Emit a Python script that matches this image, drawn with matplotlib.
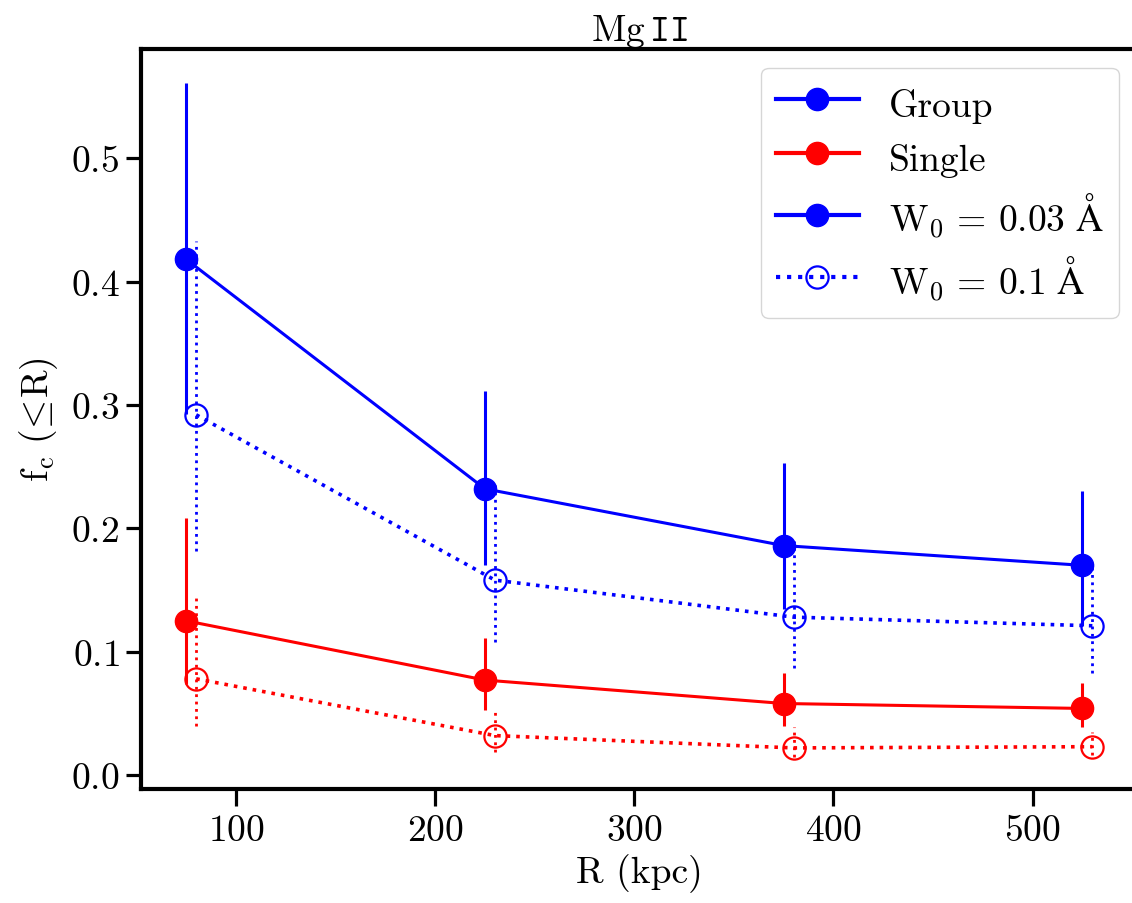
import matplotlib
matplotlib.use("Agg")
import matplotlib.pyplot as plt
from matplotlib.lines import Line2D

plt.rcParams['font.family'] = ['cmr10']
plt.rcParams['mathtext.fontset'] = 'cm'
plt.rcParams['axes.formatter.use_mathtext'] = True
plt.rcParams['axes.unicode_minus'] = False

# ---- data ----
R = [75, 225, 375, 525]
R_shift = [80, 230, 380, 530]

group_003 = [0.418, 0.232, 0.186, 0.170]
group_003_hi = [0.561, 0.311, 0.253, 0.230]
group_003_lo = [0.293, 0.170, 0.135, 0.121]

group_01 = [0.292, 0.158, 0.128, 0.121]
group_01_hi = [0.433, 0.235, 0.190, 0.170]
group_01_lo = [0.182, 0.108, 0.087, 0.083]

single_003 = [0.125, 0.077, 0.058, 0.054]
single_003_hi = [0.208, 0.111, 0.083, 0.075]
single_003_lo = [0.074, 0.053, 0.040, 0.039]

single_01 = [0.078, 0.032, 0.022, 0.023]
single_01_hi = [0.147, 0.054, 0.039, 0.035]
single_01_lo = [0.040, 0.019, 0.015, 0.016]

legend_labels = ['Group', 'Single',
                 r'$\mathrm{W_0\,=\,0.03\ \AA}$', r'$\mathrm{W_0\,=\,0.1\ \AA}$']

FS = 27

fig = plt.figure(figsize=(11.32, 9.04), dpi=100)
ax = fig.add_axes([0.1245, 0.1261, 1.005 - 0.1245, 0.9447 - 0.1261])


def err(y, hi, lo):
    return [[a - b for a, b in zip(y, lo)], [c - a for a, c in zip(y, hi)]]


def series(x, y, hi, lo, color, filled):
    if filled:
        c = ax.errorbar(x, y, yerr=err(y, hi, lo), color=color, ls='-', lw=2.2,
                        marker='o', ms=16, mfc=color, mec=color, elinewidth=2.2,
                        capsize=0)
    else:
        c = ax.errorbar(x, y, yerr=err(y, hi, lo), color=color, ls=':', lw=2.6,
                        marker='o', ms=16, mfc='none', mec=color, mew=1.6,
                        elinewidth=2.0, capsize=0)
        for lc in c.lines[2]:
            lc.set_linestyle(':')
    return c


series(R, group_003, group_003_hi, group_003_lo, 'blue', True)
series(R_shift, group_01, group_01_hi, group_01_lo, 'blue', False)
series(R, single_003, single_003_hi, single_003_lo, 'red', True)
series(R_shift, single_01, single_01_hi, single_01_lo, 'red', False)

ax.set_xlim(52.25, 552.75)
ax.set_ylim(-0.0113, 0.5885)
ax.set_xticks([100, 200, 300, 400, 500])
ax.set_yticks([0.0, 0.1, 0.2, 0.3, 0.4, 0.5])

for s in ax.spines.values():
    s.set_linewidth(3.0)
ax.tick_params(axis='both', which='major', labelsize=FS, width=2.3)
ax.tick_params(axis='y', length=10.5, pad=5)
ax.tick_params(axis='x', length=12, pad=6)

ax.set_xlabel(r'R (kpc)', fontsize=FS, labelpad=4)
ax.set_ylabel(r'$\mathrm{f_c\ (\!\leq\!R)}$', fontsize=FS, labelpad=8)
ax.set_title(r'Mg$\,\mathtt{II}$', fontsize=FS, pad=6)

handles = [
    Line2D([], [], color='blue', ls='-', lw=3, marker='o', ms=16),
    Line2D([], [], color='red', ls='-', lw=3, marker='o', ms=16),
    Line2D([], [], color='blue', ls='-', lw=3, marker='o', ms=16),
    Line2D([], [], color='blue', ls=':', lw=3, marker='o', ms=16, mfc='none', mew=1.6),
]
leg = ax.legend(handles, legend_labels, loc='upper right', fontsize=FS,
                handlelength=2.2, borderaxespad=0.5, handleheight=1.3,
                labelspacing=0.35)

fig.savefig('out.png', dpi=100)
